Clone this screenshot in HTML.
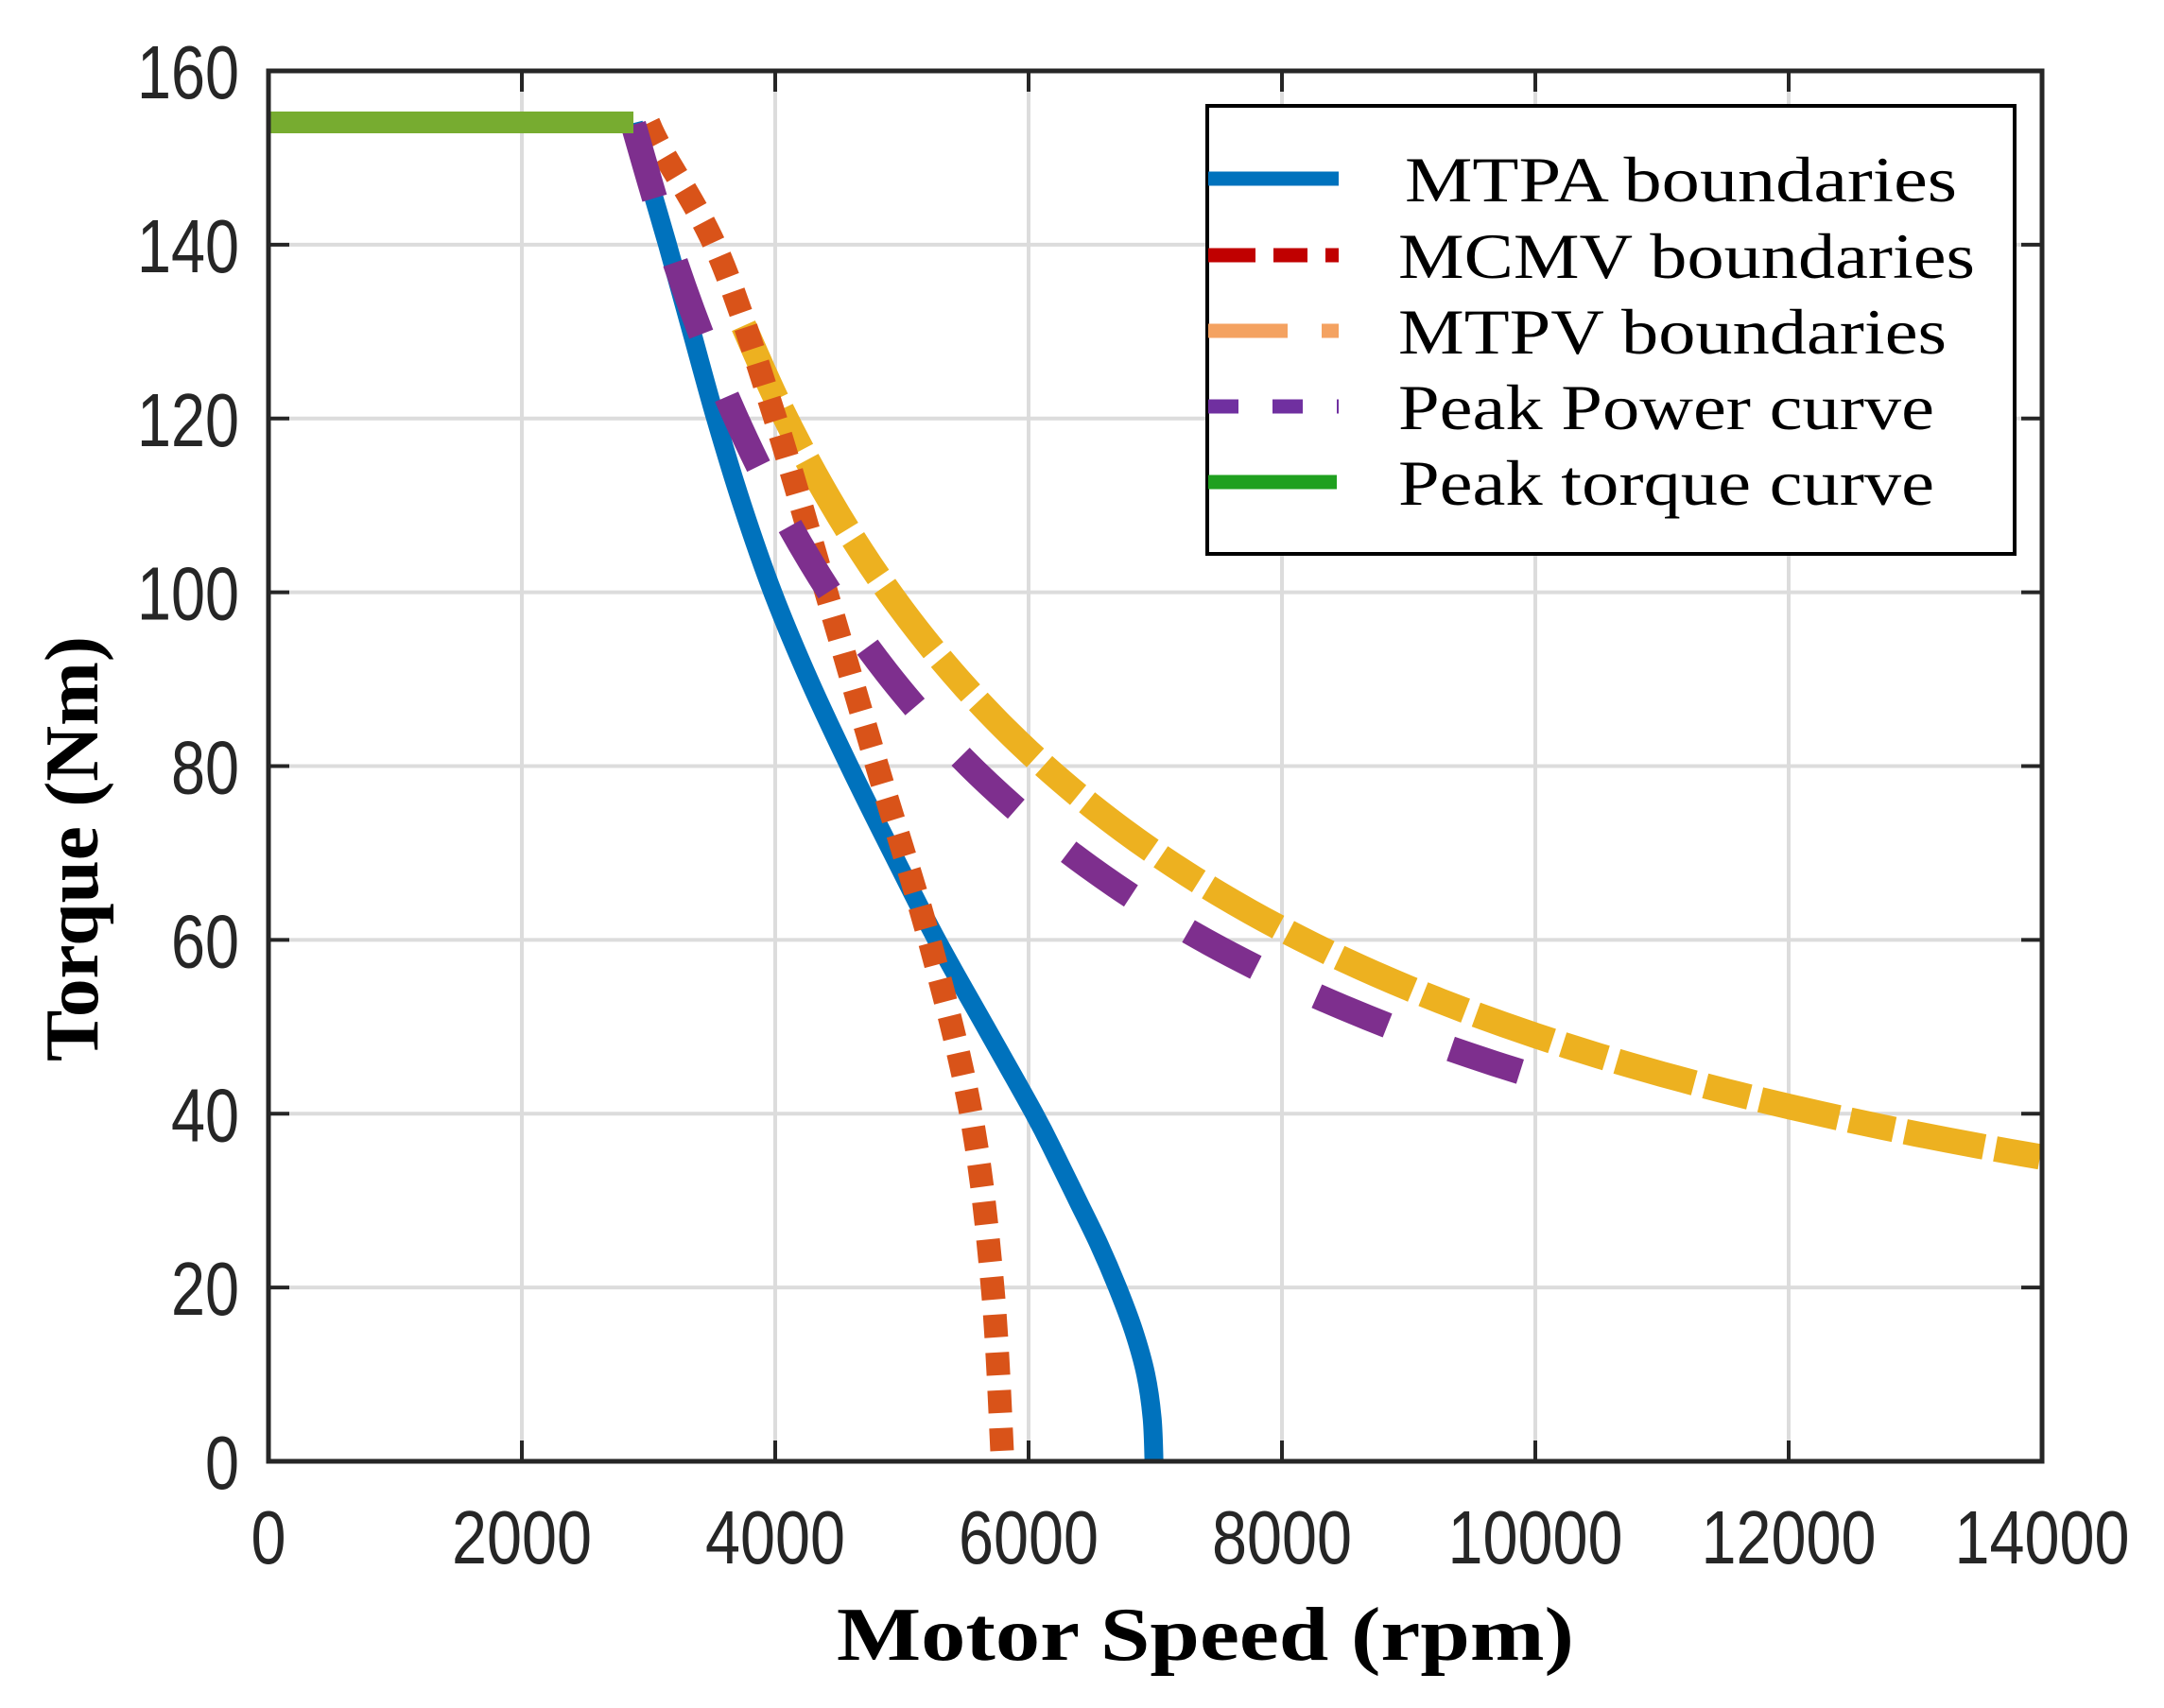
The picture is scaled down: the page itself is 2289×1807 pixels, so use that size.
<!DOCTYPE html>
<html><head><meta charset="utf-8"><style>html,body{margin:0;padding:0;background:#fff}svg{display:block}</style></head>
<body>
<svg id="s" width="2289" height="1807" viewBox="0 0 2289 1807" xmlns="http://www.w3.org/2000/svg">
<rect width="2289" height="1807" fill="#fff"/>
<g id="grid" stroke="#dcdcdc" stroke-width="4"></g>
<g id="curves" fill="none"></g>
<g id="axes"></g>
<g id="labels" fill="#262626" font-family="Liberation Sans, sans-serif" font-size="80"></g>
<text x="1275" y="1756" font-family="Liberation Serif, serif" font-weight="bold" font-size="80" text-anchor="middle" textLength="780" lengthAdjust="spacingAndGlyphs">Motor Speed (rpm)</text>
<text transform="translate(103,898) rotate(-90)" font-family="Liberation Serif, serif" font-weight="bold" font-size="80" text-anchor="middle" textLength="450" lengthAdjust="spacingAndGlyphs">Torque (Nm)</text>
<g id="legend">
<rect x="1277" y="112" width="854" height="474" fill="#fff" stroke="#000" stroke-width="4"/>
<line x1="1278" y1="189" x2="1416" y2="189" stroke="#0072BD" stroke-width="15"/>
<line x1="1278" y1="270" x2="1416" y2="270" stroke="#C00000" stroke-width="15" stroke-dasharray="50 19 36 19"/>
<line x1="1278" y1="350" x2="1416" y2="350" stroke="#F4A261" stroke-width="15" stroke-dasharray="84 36"/>
<line x1="1278" y1="430" x2="1416" y2="430" stroke="#7030A0" stroke-width="15" stroke-dasharray="32 36"/>
<line x1="1278" y1="510" x2="1414" y2="510" stroke="#1FA01F" stroke-width="15"/>
<g font-family="Liberation Serif, serif" font-size="68" fill="#000">
<text x="1486" y="213" textLength="584" lengthAdjust="spacingAndGlyphs">MTPA boundaries</text>
<text x="1479" y="294" textLength="610" lengthAdjust="spacingAndGlyphs">MCMV boundaries</text>
<text x="1479" y="374" textLength="580" lengthAdjust="spacingAndGlyphs">MTPV boundaries</text>
<text x="1479" y="454" textLength="567" lengthAdjust="spacingAndGlyphs">Peak Power curve</text>
<text x="1479" y="534" textLength="567" lengthAdjust="spacingAndGlyphs">Peak torque curve</text>
</g>
</g>
</svg>
<script>
const NS="http://www.w3.org/2000/svg";
const L=284,R=2160,T=75,B=1546;
const X=s=>L+s*(R-L)/14000, Y=t=>B-t*(B-T)/160;
function el(p,tag,a){const e=document.createElementNS(NS,tag);for(const k in a)e.setAttribute(k,a[k]);p.appendChild(e);return e;}
const grid=document.getElementById('grid'),axes=document.getElementById('axes'),lab=document.getElementById('labels');
for(let i=1;i<7;i++){el(grid,'line',{x1:X(i*2000),x2:X(i*2000),y1:T,y2:B});}
for(let i=1;i<8;i++){el(grid,'line',{x1:L,x2:R,y1:Y(i*20),y2:Y(i*20)});}
el(axes,'rect',{x:L,y:T,width:R-L,height:B-T,fill:'none',stroke:'#262626','stroke-width':5});
for(let i=0;i<=7;i++){const x=X(i*2000);
 el(axes,'line',{x1:x,x2:x,y1:B,y2:B-22,stroke:'#262626','stroke-width':4});
 el(axes,'line',{x1:x,x2:x,y1:T,y2:T+22,stroke:'#262626','stroke-width':4});
 const t=el(lab,'text',{x:x,y:1654,'text-anchor':'middle'});t.textContent=String(i*2000);
 const w=String(i*2000).length*37; t.setAttribute('textLength',w);t.setAttribute('lengthAdjust','spacingAndGlyphs');}
for(let i=0;i<=8;i++){const y=Y(i*20);
 el(axes,'line',{x1:L,x2:L+22,y1:y,y2:y,stroke:'#262626','stroke-width':4});
 el(axes,'line',{x1:R,x2:R-22,y1:y,y2:y,stroke:'#262626','stroke-width':4});
 const s=String(i*20);const t=el(lab,'text',{x:253,y:y+29,'text-anchor':'end'});t.textContent=s;
 t.setAttribute('textLength',s.length*36);t.setAttribute('lengthAdjust','spacingAndGlyphs');}
function cr(pts){const P=pts.map(p=>[X(p[0]),Y(p[1])]);let d='M'+P[0][0]+' '+P[0][1];
 for(let i=0;i<P.length-1;i++){const p0=P[Math.max(0,i-1)],p1=P[i],p2=P[i+1],p3=P[Math.min(P.length-1,i+2)];
  d+=' C'+(p1[0]+(p2[0]-p0[0])/6)+' '+(p1[1]+(p2[1]-p0[1])/6)+' '+(p2[0]-(p3[0]-p1[0])/6)+' '+(p2[1]-(p3[1]-p1[1])/6)+' '+p2[0]+' '+p2[1];}
 return d;}
const cv=document.getElementById('curves');
const blue=[[2880,154],[2950,150],[3150,140],[3340,130],[3530,120],[3740,110],[3980,100],[4265,90],[4585,80],[4925,70],[5275,60],[5660,50],[6045,40],[6220,35],[6388,30],[6555,25],[6702,20],[6830,15],[6925,10],[6975,5],[6990,0]];
const orange=[[3000,154],[3100,151],[3551,139],[3987,120.6],[4403,100],[4804,80],[5216,60],[5545,40],[5716,20],[5795,0]];
const yel=[];for(let s=3750;s<=14000;s+=250)yel.push([s,490000/s]);
const pur=[];for(let s=2880;s<=10000;s+=200)pur.push([s,443000/s]);
el(cv,'path',{d:cr(yel),stroke:'#EDB120','stroke-width':27,'stroke-dasharray':'85 12 48 12'});
el(cv,'path',{d:cr(blue),stroke:'#0072BD','stroke-width':20,'stroke-linejoin':'round'});
el(cv,'path',{d:cr(orange),stroke:'#D95319','stroke-width':25,'stroke-dasharray':'24 16'});
const pp=el(cv,'path',{d:cr(pur),stroke:'#7E2F8E','stroke-width':27});
const len=pp.getTotalLength();const per=160;const n=Math.round((len+75)/per);const dl=85*(len+75)/(n*per), gl=75*(len+75)/(n*per);
pp.setAttribute('stroke-dasharray',dl+' '+gl);
el(cv,'line',{x1:L,x2:670,y1:129.5,y2:129.5,stroke:'#77AC30','stroke-width':23});
</script>
</body></html>
